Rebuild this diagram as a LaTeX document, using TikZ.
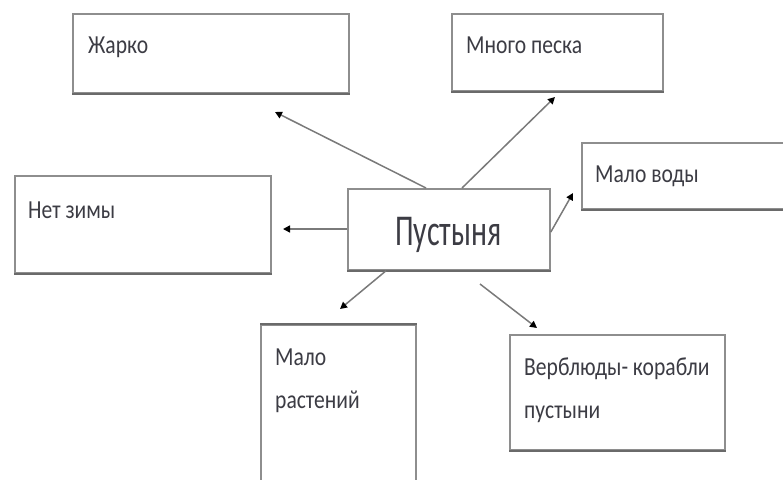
\documentclass[tikz,border=0pt]{standalone}
\usepackage{fontspec}
\setmainfont{Carlito}
\newfontfamily\smallf[FakeStretch=0.83]{Carlito}
\newfontfamily\bigf[FakeStretch=0.68]{Carlito}
\usetikzlibrary{arrows.meta,calc}
\definecolor{boxgray}{HTML}{8E8E8E}
\definecolor{boxdark}{HTML}{6A6A6A}
\definecolor{linegray}{HTML}{7A7A7A}
\definecolor{txt}{HTML}{3C3C44}
\tikzset{
  box/.style={draw=boxgray, line width=1.8pt, fill=white, rectangle, inner sep=0pt, anchor=north west},
  lbl/.style={anchor=base west, inner sep=0pt, text=txt, font=\smallf\fontsize{26}{26}\selectfont},
  conn/.style={draw=linegray, line width=1.5pt, -{Triangle[length=7pt,width=7pt,fill=black,color=black]}},
}
\begin{document}
\begin{tikzpicture}[x=1pt,y=-1pt]
\useasboundingbox (0,0) rectangle (783,479);
\clip (0,0) rectangle (783,479);
% boxes
\node[box, minimum width=276pt, minimum height=79pt] (zh) at (72,13) {};
\node[box, minimum width=211pt, minimum height=77pt] (mp) at (451,13) {};
\node[box, minimum width=230pt, minimum height=66pt] (mv) at (581,142) {};
\node[box, minimum width=256pt, minimum height=97pt] (nz) at (14,175) {};
\node[box, minimum width=202pt, minimum height=81pt] (c) at (347,188) {};
\node[box, minimum width=155pt, minimum height=160pt] (mr) at (260,324) {};
\node[box, minimum width=215pt, minimum height=115pt] (vb) at (509,334) {};
% darker bottom edges
\foreach \n in {zh,mp,mv,nz,c,vb}{
  \draw[boxdark, line width=1.8pt] (\n.south west) -- (\n.south east);
}
\draw[boxdark, line width=1.8pt] (mr.north west) -- (mr.north east);
% texts
\node[lbl] (tzh) at (88,53) {Жарко};
\node[lbl] (tmp) at (466,53) {Много песка};
\node[lbl] (tmv) at (595,182) {Мало воды};
\node[lbl] (tnz) at (28,218) {Нет зимы};
\node[lbl] (tmr1) at (275,365) {Мало};
\node[lbl] (tmr2) at (275,408) {растений};
\node[lbl] (tvb1) at (524,375) {Верблюды- корабли};
\node[lbl] (tvb2) at (524,418) {пустыни};
\node[anchor=base west, inner sep=0pt, text=txt, font=\bigf\fontsize{44}{44}\selectfont] (tc) at (395,245) {Пустыня};
% arrow ends
\coordinate (ezh) at (275,112);
\coordinate (emp) at (555,97);
\coordinate (emv) at (573,193);
\coordinate (enz) at (283,229);
\coordinate (emr) at (340,309);
\coordinate (svb) at (480,284);
\coordinate (evb) at (537,328);
% connectors
\draw[conn] ([xshift=79pt]c.north west) -- (ezh);
\draw[conn] ([xshift=115pt]c.north west) -- (emp);
\draw[conn] ([yshift=-44pt]c.north east) -- (emv);
\draw[conn] ([yshift=-41pt]c.north west) -- (enz);
\draw[conn] ([xshift=39pt]c.south west) -- (emr);
\draw[conn] (svb) -- (evb);
\end{tikzpicture}
\end{document}
